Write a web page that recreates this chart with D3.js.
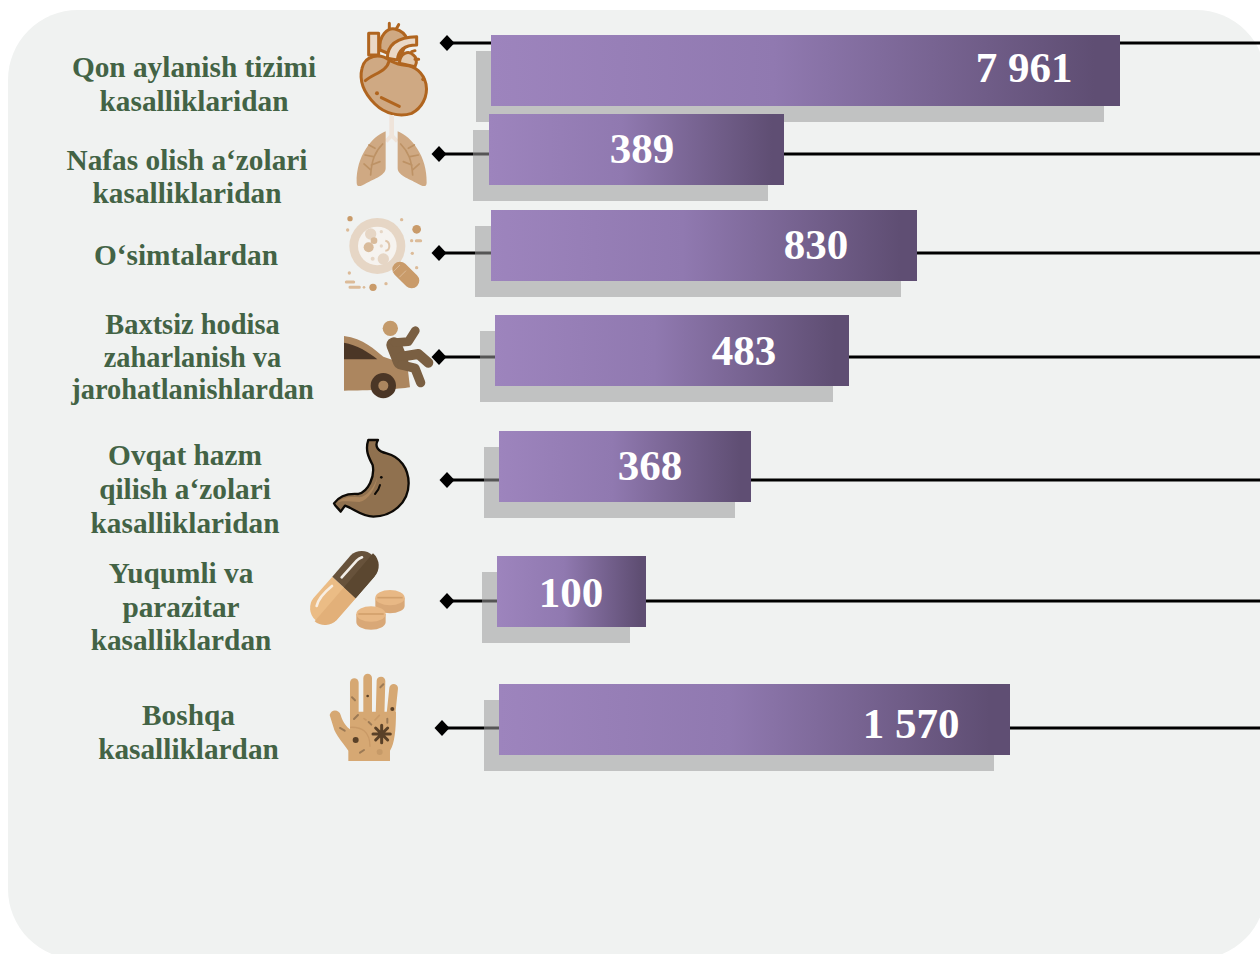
<!DOCTYPE html>
<html><head><meta charset="utf-8">
<script src="https://cdnjs.cloudflare.com/ajax/libs/d3/7.8.5/d3.min.js"></script>
<style>html,body{margin:0;padding:0;background:#fff;overflow:hidden}svg{display:block}</style>
</head><body><svg id="c" width="1260" height="954"></svg>
<script>
// ---- data ----
const categories = [
  ["Qon aylanish tizimi","kasalliklaridan"],
  ["Nafas olish a‘zolari","kasalliklaridan"],
  ["O‘simtalardan"],
  ["Baxtsiz hodisa","zaharlanish va","jarohatlanishlardan"],
  ["Ovqat hazm","qilish a‘zolari","kasalliklaridan"],
  ["Yuqumli va","parazitar","kasalliklardan"],
  ["Boshqa","kasalliklardan"]
];
const values = [7961, 389, 830, 483, 368, 100, 1570];
const valueLabels = ["7 961","389","830","483","368","100","1 570"];
// The source infographic is not drawn to a linear scale: these are the bar lengths seen at each value
const scaleKnotValues = [100, 368, 389, 483, 830, 1570, 7961];
const scaleKnotLengths = [149, 252, 295, 354, 426, 511, 629];

// ---- layout (separate from the data) ----
const barLeft   = [491,489,491,495,499,497,499];
const barTop    = [35,114,210,315,431,556,684];
const lineY     = [43,154,253,357,480,601,728];
const diamondX  = [447,439,439,439,447,447,442];
const labelX    = [194,187,186,192.5,185,181,188.5];
const labelBase = [77,170,265,334,465,583,725];
const labelStep = [34,33,0,32.5,34,33.5,34];
const labelSize = [29.3,29.3,29.3,28.4,29.3,29.3,29.3];
const valueX    = [1024,642,816,744,650,571,911];
const valueBase = [82,162.5,258.5,365,480,607,738];
const shadowLeft= [476,473,475,480,484,482,484];
const barH = 71, shadowDx = -16, shadowDy = 16;

const svg = d3.select("#c");
const len = d3.scaleLinear().domain(scaleKnotValues).range(scaleKnotLengths);

const defs = svg.append("defs");
const g = defs.append("linearGradient").attr("id","barGrad");
[[0,"#9d84bd"],[0.45,"#9079b0"],[0.96,"#5f4e73"],[1,"#5f4e73"]].forEach(([o,c])=>g.append("stop").attr("offset",o).attr("stop-color",c));

svg.append("rect").attr("x",8).attr("y",10).attr("width",1258).attr("height",949).attr("rx",70).attr("ry",70).attr("fill","#f0f2f1");

const idx = d3.range(values.length);
svg.append("g").selectAll("line").data(idx).join("line")
  .attr("x1",i=>diamondX[i]).attr("x2",1260).attr("y1",i=>lineY[i]).attr("y2",i=>lineY[i])
  .attr("stroke","#000").attr("stroke-width",3);
svg.append("g").selectAll("path").data(idx).join("path")
  .attr("d","M0,-8L7.5,0L0,8L-7.5,0Z")
  .attr("transform",i=>`translate(${diamondX[i]},${lineY[i]})`).attr("fill","#000");
svg.append("g").selectAll("rect").data(idx).join("rect")
  .attr("x",i=>shadowLeft[i]).attr("y",i=>barTop[i]+shadowDy)
  .attr("width",i=>barLeft[i]+shadowDx+len(values[i])-shadowLeft[i]).attr("height",barH).attr("fill","rgba(155,155,155,.55)");
svg.append("g").selectAll("rect").data(idx).join("rect")
  .attr("x",i=>barLeft[i]).attr("y",i=>barTop[i])
  .attr("width",i=>len(values[i])).attr("height",barH).attr("fill","url(#barGrad)");
svg.append("g").selectAll("text").data(idx).join("text")
  .attr("x",i=>valueX[i]).attr("y",i=>valueBase[i]).attr("text-anchor","middle")
  .attr("font-family","'Liberation Serif'").attr("font-weight","bold").attr("font-size",43)
  .attr("fill","#fff").text(i=>valueLabels[i]);
const lab = svg.append("g").attr("font-family","'Liberation Serif'").attr("font-weight","bold")
  .attr("fill","#436345").attr("text-anchor","middle");
idx.forEach(i=>categories[i].forEach((t,j)=>lab.append("text").attr("font-size",labelSize[i]).attr("x",labelX[i]).attr("y",labelBase[i]+j*labelStep[i]).text(t)));

// ---- decorative icons ----
const icons = svg.append("g");
const P=(p,d,a)=>{const e=p.append("path").attr("d",d);Object.entries(a||{}).forEach(([k,v])=>e.attr(k,v));return e;};
const C=(p,x,y,r,f)=>p.append("circle").attr("cx",x).attr("cy",y).attr("r",r).attr("fill",f);

// heart & lungs & magnifier (traced in 3x crop space)
const z1 = icons.append("g").attr("transform","translate(300,0) scale(.3333)");
const hs={stroke:"#b0651f","stroke-width":9,"stroke-linejoin":"round","stroke-linecap":"round"};
P(z1,"M268 70V85M296 74L290 85",{...hs,fill:"none"});
P(z1,"M240 150C235 105 265 82 285 87C305 92 318 105 322 120L300 175Z",{...hs,fill:"#cfa983"});
P(z1,"M206 100H236V165H206Z",{...hs,fill:"#ead8c6"});
P(z1,"M262 175C262 135 290 112 350 110L350 135C315 135 295 150 292 180Z",{...hs,fill:"#ead8c6"});
P(z1,"M298 190C300 160 325 150 340 165C350 172 352 185 345 200Z",{...hs,fill:"#e2c8ac"});
P(z1,"M335 155L345 152M345 178L356 178",{...hs,fill:"none"});
P(z1,"M270 182C240 158 195 165 186 205C176 245 195 282 225 312C255 342 300 352 335 340C365 325 385 290 378 252C370 218 345 198 315 196C295 195 282 188 270 182Z",{...hs,fill:"#cfa983"});
P(z1,"M266 186C262 212 220 222 196 242",{...hs,fill:"none"});
P(z1,"M244 293L298 319",{...hs,fill:"none"});
C(z1,231,280,6,"#b0651f");C(z1,370,238,6,"#b0651f");

P(z1,"M268 345H282V405L296 420L288 428L275 415L262 428L254 420L268 405Z",{fill:"#efe4da"});
P(z1,"M257 394C215 410 168 470 170 548C170 562 182 560 195 552C215 540 257 528 257 505Z",{fill:"#cfa983"});
P(z1,"M293 394C335 410 382 470 380 548C380 562 368 560 355 552C335 540 293 528 293 505Z",{fill:"#cfa983"});
const vein={stroke:"#bd9265","stroke-width":5,fill:"none","stroke-linecap":"round"};
P(z1,"M248 432C225 455 215 480 212 525M225 445L207 435M220 470L195 465M214 495L240 485M212 510L192 492",vein);
P(z1,"M302 432C325 455 335 480 338 525M325 445L343 435M330 470L355 465M336 495L310 485M338 510L358 492",vein);

C(z1,232,738,84,"#e6d6c5");C(z1,232,738,58,"#f6f3ef");
C(z1,212,702,17,"#e6d6c5");C(z1,206,742,15,"#d9bb9b");C(z1,222,722,10,"#d9bb9b");C(z1,250,777,17,"#e6d6c5");
C(z1,244,695,5,"#e6d6c5");C(z1,244,738,5,"#e6d6c5");C(z1,218,776,6,"#e6d6c5");
P(z1,"M256 722C272 725 272 752 256 752",{stroke:"#e0c6aa","stroke-width":6,fill:"none"});
P(z1,"M300 808L335 842",{stroke:"#c99b6a","stroke-width":46,"stroke-linecap":"round",fill:"none"});
P(z1,"M300 795L280 815M318 812L298 832",{stroke:"#dcbb98","stroke-width":3,fill:"none"});
[[150,656,8,"#c99b6a"],[143,690,5,"#dcbb98"],[305,659,5,"#dcbb98"],[350,688,13,"#c99b6a"],[335,722,5,"#dcbb98"],[337,760,5,"#dcbb98"],[350,803,5,"#dcbb98"],[148,819,5,"#dcbb98"],[219,862,11,"#c99b6a"],[258,851,5,"#dcbb98"],[192,862,4,"#dcbb98"]].forEach(d=>C(z1,...d));
P(z1,"M349 722H362M139 846H161M150 862H178",{stroke:"#dcbb98","stroke-width":9,"stroke-linecap":"round",fill:"none"});

// car & stomach
const z2 = icons.append("g").attr("transform","translate(300,300) scale(.3333)");
P(z2,"M132 108C190 115 225 150 250 170L322 195L330 262C300 268 200 272 132 272Z",{fill:"#ac865f"});
P(z2,"M132 128C170 135 205 155 232 178L132 178Z",{fill:"#4b3626"});
C(z2,250,257,38,"#4b3626");C(z2,250,257,15,"#ac865f");
C(z2,271,85,23,"#c39a6b");
const ps={stroke:"#7a5f42","stroke-linecap":"round","stroke-linejoin":"round",fill:"none"};
P(z2,"M282 135L302 185",{...ps,"stroke-width":46});
P(z2,"M285 128L325 125L346 92",{...ps,"stroke-width":26});
P(z2,"M305 170L355 162L385 188",{...ps,"stroke-width":30});
P(z2,"M305 195L345 205L362 248",{...ps,"stroke-width":28});

P(z2,"M234 420C222 440 235 455 260 460C300 470 326 505 326 550C326 610 275 650 220 650C185 650 160 625 135 617L122 635C115 625 105 618 102 610C120 585 150 580 175 582C205 575 225 530 218 495C205 470 195 450 205 420Z",{fill:"#90714f",stroke:"#0d0a06","stroke-width":7,"stroke-linejoin":"round"});
P(z2,"M112 608C130 590 150 590 178 592C200 590 225 560 232 530C228 565 205 600 178 606C150 606 130 600 112 608Z",{fill:"#ab855c"});
P(z2,"M240 555C238 565 232 574 225 582",{stroke:"#0d0a06","stroke-width":6,"stroke-linecap":"round",fill:"none"});
C(z2,244,532,4,"#0d0a06");

// pills & hand
const z3 = icons.append("g").attr("transform","translate(290,530) scale(.3333)");
P(z3,"M127 140L70 205A48 48 0 0 0 140 270L197 205Z",{fill:"#ebbc85"});
P(z3,"M162 172L197 205L140 270A48 48 0 0 1 74 274Z",{fill:"#e2b079"});
P(z3,"M127 140L197 205L253 140A48 48 0 0 0 183 75Z",{fill:"#67523b"});
P(z3,"M162 172L197 205L253 140A48 48 0 0 0 249 70Z",{fill:"#5b4730"});
P(z3,"M155 142L200 92C205 87 210 84 216 82",{stroke:"#f3efe9","stroke-width":8,"stroke-linecap":"round",fill:"none"});
P(z3,"M80 228C85 205 105 185 126 168",{stroke:"#f8eee2","stroke-width":8,"stroke-linecap":"round",fill:"none"});
const tablet=(cx,cy)=>{
  P(z3,`M${cx-44} ${cy}V${cy+24}A44 23 0 0 0 ${cx+44} ${cy+24}V${cy}Z`,{fill:"#d9a877"});
  z3.append("ellipse").attr("cx",cx).attr("cy",cy).attr("rx",44).attr("ry",23).attr("fill","#e8b885");
  P(z3,`M${cx-38} ${cy}H${cx+38}`,{stroke:"#d2a06c","stroke-width":5,fill:"none"});
};
tablet(300,203);tablet(243,252);

const hf="#d6a873";
const fs={stroke:hf,"stroke-width":26,"stroke-linecap":"round",fill:"none"};
["M193 458L193 560","M233 444L233 560","M273 453L270 560","M311 475L302 560"].forEach(d=>P(z3,d,fs));
P(z3,"M180 545H318C318 600 314 640 300 662V693H175V662C160 640 145 625 133 600L119 555C125 535 148 540 152 555C160 580 170 590 180 598Z",{fill:hf});
const dk="#5a4128", md="#9c7a55";
P(z3,"M249 612H301M275 586V638M257 594L293 630M293 594L257 630",{stroke:dk,"stroke-width":9,"stroke-linecap":"round",fill:"none"});
C(z3,197,630,9,dk);C(z3,307,537,6,dk);C(z3,233,498,4,dk);C(z3,269,666,9,"#c69a68");
P(z3,"M186 502L195 511M192 567L204 555M236 576L244 584M210 668L222 660M292 566V578M271 472L280 463M150 594L164 602",{stroke:md,"stroke-width":6,"stroke-linecap":"round",fill:"none"});
P(z3,"M180 592C215 590 240 605 240 650",{stroke:"#c99a67","stroke-width":4,fill:"none"});
P(z3,"M255 570L268 556M222 566L228 570",{stroke:"#c99a67","stroke-width":5,"stroke-linecap":"round",fill:"none"});
</script></body></html>
